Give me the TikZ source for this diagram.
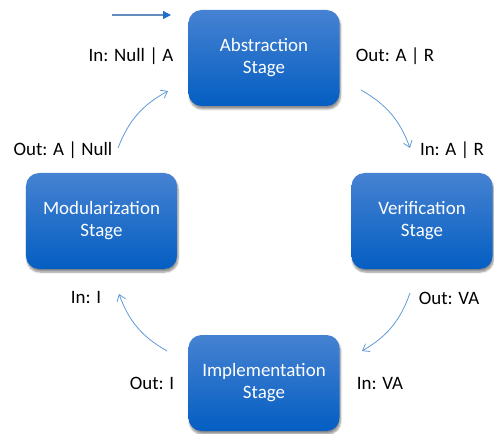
\documentclass[tikz,border=0pt]{standalone}
\usepackage{fontspec}
\setmainfont{Carlito}
\usetikzlibrary{arrows.meta,shadows.blur}
\definecolor{boxtop}{RGB}{70,130,210}
\definecolor{boxbot}{RGB}{4,94,194}
\definecolor{flow}{RGB}{95,155,215}
\definecolor{startline}{RGB}{100,140,190}
\definecolor{starttip}{RGB}{31,110,200}
\tikzset{
  stagebox/.style={rounded corners=13bp, minimum width=151bp, minimum height=96bp,
    top color=boxtop, bottom color=boxbot, draw=none, text=white, align=center,
    font=\fontsize{19}{22}\selectfont,
    blur shadow={shadow xshift=1bp, shadow yshift=-3bp, shadow blur steps=6, shadow opacity=45}},
  lbl/.style={text=black, font=\fontsize{19}{22}\selectfont, inner sep=0pt},
  flowarrow/.style={draw=flow, line width=0.8bp, -{Straight Barb[length=6bp,width=9bp]}, bend left=20},
  startarrow/.style={draw=startline, line width=1.2bp, -{Triangle[length=8bp,width=8bp,color=starttip]}}
}
\begin{document}
\begin{tikzpicture}[x=1bp,y=-1bp]
\useasboundingbox (0,0) rectangle (494,434);
\node[stagebox] (abs) at (264,58) {Abstraction\\Stage};
\node[stagebox, minimum width=141bp] (ver) at (422,221) {Verification\\Stage};
\node[stagebox] (imp) at (264,383) {Implementation\\Stage};
\node[stagebox] (mod) at (101.5,221) {Modularization\\Stage};

\node[lbl] (inabs) at (131,56) {In: Null | A};
\node[lbl] (outabs) at (395,56) {Out: A | R};
\node[lbl] (inver) at (452,150) {In: A | R};
\node[lbl] (outver) at (449,298) {Out: VA};
\node[lbl] (inimp) at (380,383) {In: VA};
\node[lbl] (outimp) at (152,383) {Out: I};
\node[lbl] (inmod) at (86,297) {In: I};
\node[lbl] (outmod) at (63,150) {Out: A | Null};

\coordinate (s0) at (112,15);
\coordinate (s1) at (171,15);
\draw[startarrow] (s0) -- (s1);

\coordinate (a1) at (361,90);
\coordinate (a2) at (410,148);
\coordinate (b1) at (410,293);
\coordinate (b2) at (362,351);
\coordinate (c1) at (167,351);
\coordinate (c2) at (119,294);
\coordinate (d1) at (118,148);
\coordinate (d2) at (168,91);
\draw[flowarrow] (a1) to (a2);
\draw[flowarrow] (b1) to (b2);
\draw[flowarrow] (c1) to (c2);
\draw[flowarrow] (d1) to (d2);
\end{tikzpicture}
\end{document}
